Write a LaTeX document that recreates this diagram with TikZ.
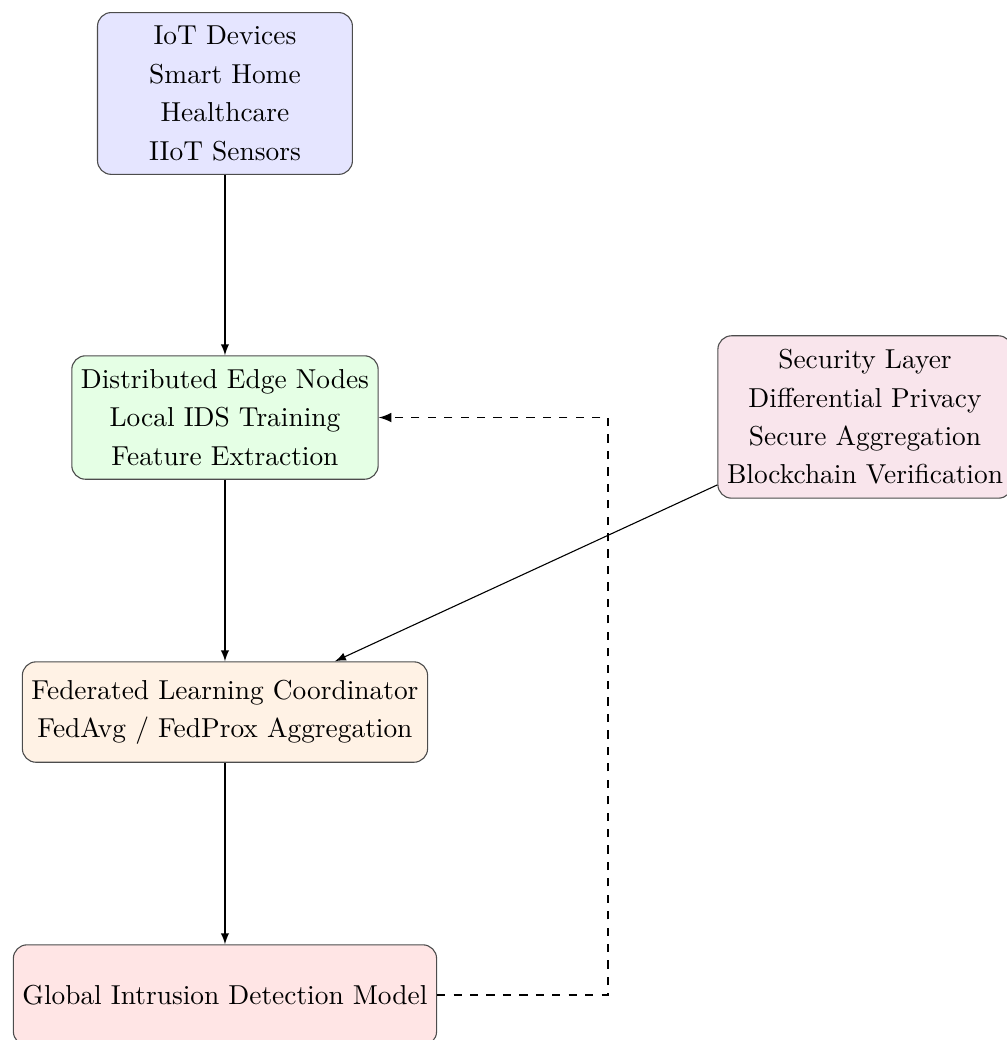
\documentclass[tikz,border=0pt]{standalone}
\usepackage{tikz}

\begin{document}
\begin{tikzpicture}[
        box/.style={draw=black!70, rounded corners=5pt, align=center, minimum height=1.288cm,
            inner xsep=3.33pt, inner ysep=5pt, font=\fontsize{10}{14}\selectfont},
        flow/.style={->, >=latex}
    ]
        \useasboundingbox (0,0) rectangle (12.905,-13.341);

        \node[box, fill=blue!10, minimum width=3.27cm] (iot) at (2.886,-1.199)
            {IoT Devices\\Smart Home\\Healthcare\\IIoT Sensors};
        \node[box, fill=green!10] (edge) at (2.886,-5.356)
            {Distributed Edge Nodes\\Local IDS Training\\Feature Extraction};
        \node[box, fill=purple!10] (security) at (11.096,-5.349)
            {Security Layer\\Differential Privacy\\Secure Aggregation\\Blockchain Verification};
        \node[box, fill=orange!10] (coord) at (2.886,-9.134)
            {Federated Learning Coordinator\\FedAvg / FedProx Aggregation};
        \node[box, fill=red!10] (global) at (2.886,-12.764)
            {Global Intrusion Detection Model};

        \draw[flow] (iot) -- (edge);
        \draw[flow] (edge) -- (coord);
        \draw[flow] (coord) -- (global);
        \draw[flow] (security) -- (coord);

        % feedback from the global model back to the edge
        \coordinate (loop) at (7.800,-12.764);
        \draw[flow, dashed, line width=0.6pt] (global.east) -- (loop) |- (edge.east);
    \end{tikzpicture}
\end{document}
